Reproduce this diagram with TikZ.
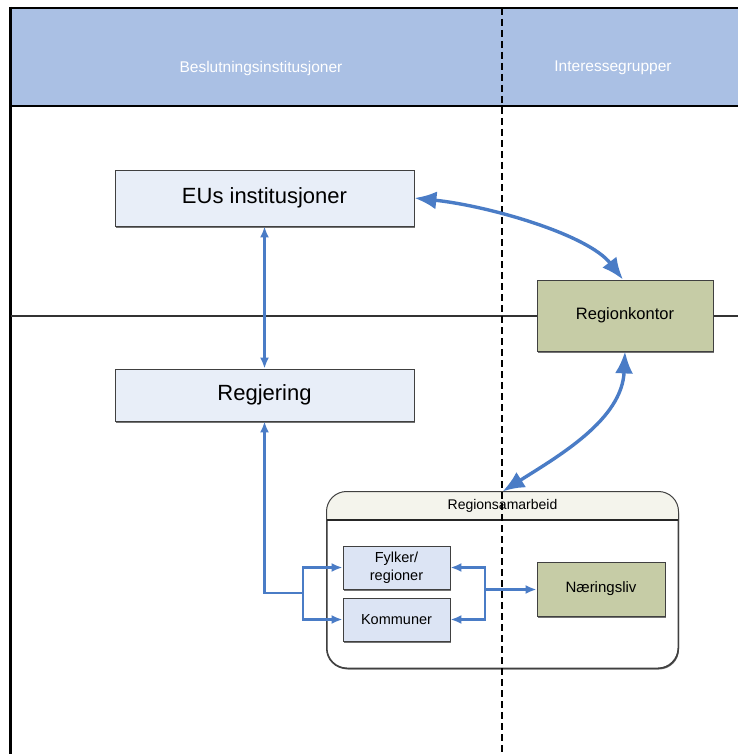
\documentclass[tikz,border=0pt]{standalone}
\usepackage{fontspec}
\setmainfont{Liberation Sans}
\usetikzlibrary{arrows.meta,shadows}
\definecolor{hdrblue}{RGB}{170,192,228}
\definecolor{boxblue}{RGB}{232,238,248}
\definecolor{boxblue2}{RGB}{220,228,244}
\definecolor{olive}{RGB}{198,204,166}
\definecolor{arrblue}{RGB}{74,124,198}
\definecolor{rshead}{RGB}{244,244,236}
\tikzset{
  bx/.style={draw=black!75, line width=0.8pt, inner sep=0pt,
    drop shadow={shadow xshift=1pt, shadow yshift=-1.5pt, fill=black!55, opacity=1}},
  bigbox/.style={bx, fill=boxblue, font=\fontsize{22}{26}\selectfont},
  smallbox/.style={bx, fill=boxblue2, font=\fontsize{14.5}{18}\selectfont, align=center},
  olivebox/.style={bx, fill=olive},
  conn/.style={draw=arrblue, line width=2.2pt, -{Latex[length=11pt,width=9pt]}},
  dconn/.style={draw=arrblue, line width=2.2pt, {Latex[length=11pt,width=9pt]}-{Latex[length=11pt,width=9pt]}},
  curved/.style={draw=arrblue, line width=3.4pt, {Latex[length=22pt,width=18pt]}-{Latex[length=22pt,width=18pt]}},
  hdrtext/.style={text=white, font=\fontsize{15.5}{18}\selectfont}
}
\begin{document}
\begin{tikzpicture}[x=1pt,y=-1pt]
\useasboundingbox (0,0) rectangle (738,754);
% header band
\fill[hdrblue] (10,8) rectangle (738,106);
\node[hdrtext] (h1) at (261,68) {Beslutningsinstitusjoner};
\node[hdrtext] (h2) at (613,68) {Interessegrupper};
% frame
\draw[black, line width=2pt] (10,8) -- (738,8);
\draw[black, line width=2.5pt] (10,106) -- (738,106);
\draw[black, line width=3pt] (10,7) -- (10,754);
% horizontal lane separator
\draw[black!80, line width=1.8pt] (11,316) -- (738,316);
% boxes
\node[bigbox, minimum width=299pt, minimum height=56pt] (eu) at (264.5,198) {EUs institusjoner};
\node[bigbox, minimum width=299pt, minimum height=52pt] (reg) at (264.5,395) {Regjering};
\node[olivebox, minimum width=176pt, minimum height=71pt, font=\fontsize{16.5}{19}\selectfont] (rk) at (625,315.5) {Regionkontor};
% Regionsamarbeid container
\node[draw=black!75, line width=1pt, rounded corners=20pt, fill=white, minimum width=351pt, minimum height=176pt,
  drop shadow={shadow xshift=1pt, shadow yshift=-1.5pt, fill=black!55, opacity=1}] (rs) at (502.5,580) {};
\begin{scope}
  \clip[rounded corners=20pt] (rs.south west) rectangle (rs.north east);
  \fill[rshead] (327,492) rectangle (678,520);
\end{scope}
\draw[black!75, line width=1pt, rounded corners=20pt] (rs.south west) rectangle (rs.north east);
\draw[black!85, line width=1.2pt] (327,520) -- (678,520);
\node[font=\fontsize{14}{16}\selectfont] (rst) at (502.5,506) {Regionsamarbeid};
% dashed lane separator
\draw[black, line width=1.6pt, dash pattern=on 7pt off 4pt] (502,8) -- (502,754);
% inner boxes
\node[smallbox, minimum width=107pt, minimum height=43pt] (fy) at (396.5,567.5) {Fylker/\\regioner};
\node[smallbox, minimum width=107pt, minimum height=43pt] (ko) at (396.5,619.5) {Kommuner};
\node[olivebox, minimum width=128pt, minimum height=54pt, font=\fontsize{15}{18}\selectfont] (nl) at (601,589) {Næringsliv};
% connectors
\draw[dconn] (eu.south) -- (reg.north);
\coordinate (jl) at (303,593);
\coordinate (jr) at (485,589.5);
\draw[conn] (jl) -| (reg.south);
\draw[conn] (jl) |- (fy.west);
\draw[conn] (jl) |- (ko.west);
\draw[conn] (jr) |- (fy.east);
\draw[conn] (jr) |- (ko.east);
\draw[conn] (jr) -- (nl.west |- jr);
\draw[curved] (eu.east) .. controls +(75,8) and +(-35,-45) .. ([xshift=-2pt]rk.north);
\draw[curved] (rk.south) .. controls +(-3,68) and +(57,-36) .. (rs.north);
\end{tikzpicture}
\end{document}
